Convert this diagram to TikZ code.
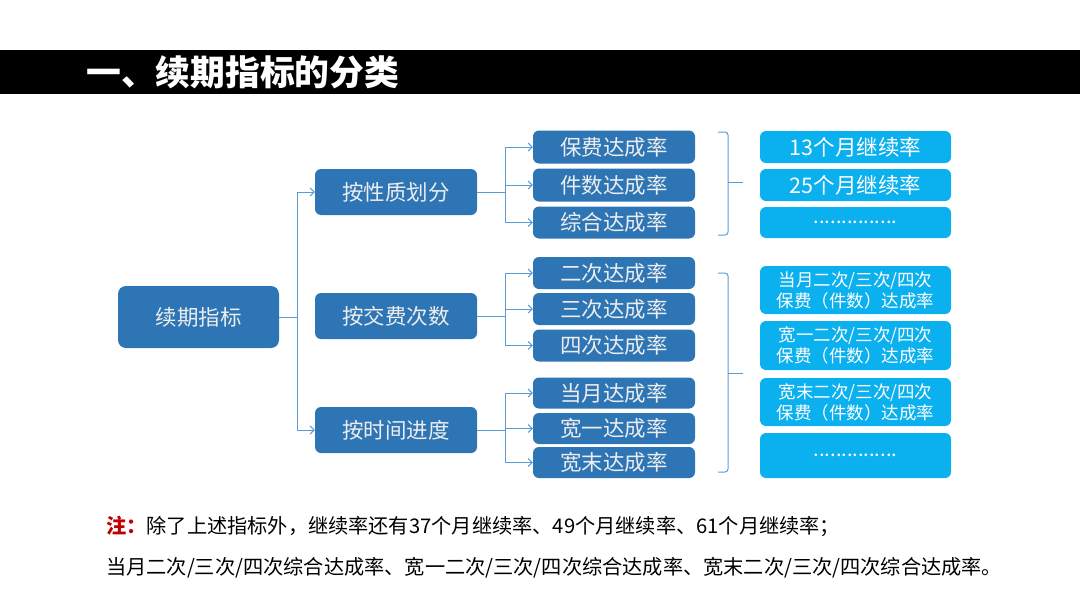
\documentclass[tikz,border=0pt]{standalone}
\usepackage{fontspec}
\setmainfont{Noto Sans CJK SC}
\usetikzlibrary{arrows.meta,calc}
\definecolor{darkbox}{HTML}{2E75B6}
\definecolor{lightbox}{HTML}{0BB0EE}
\definecolor{conn}{HTML}{5B9BD5}
\definecolor{boxtext}{HTML}{EDEDED}
\definecolor{notered}{HTML}{C00000}
\begin{document}
\begin{tikzpicture}[x=1pt,y=-1pt,
  dbox/.style={draw=none,fill=darkbox,rounded corners=6pt,text=boxtext,inner sep=0pt,font=\fontsize{21.5}{24}\selectfont},
  lbox/.style={draw=none,fill=lightbox,rounded corners=6pt,text=white,inner sep=0pt,minimum width=191pt,align=center},
  link/.style={draw=conn,line width=1pt},
  arr/.style={link,-{Straight Barb[length=4pt,width=8pt]}},
  brk/.style={draw=conn,line width=1pt,rounded corners=3pt}]
\useasboundingbox (0,0) rectangle (1080,608);
% title bar
\fill[black] (0,50) rectangle (1080,94);
\node[anchor=west,text=white,font=\bfseries\fontsize{34.8}{38}\selectfont,inner sep=0pt] (title) at (86,72) {一、续期指标的分类};
% root
\node[dbox,minimum width=161pt,minimum height=62pt,rounded corners=8pt] (root) at (198.5,317) {续期指标};
% level 2
\node[dbox,minimum width=162pt,minimum height=46pt] (l2a) at (396,192) {按性质划分};
\node[dbox,minimum width=162pt,minimum height=46pt] (l2b) at (396,316) {按交费次数};
\node[dbox,minimum width=162pt,minimum height=46pt] (l2c) at (396,430) {按时间进度};
% level 3
\node[dbox,minimum width=162pt,minimum height=33pt] (l3a) at (614,147) {保费达成率};
\node[dbox,minimum width=162pt,minimum height=33pt] (l3b) at (614,185) {件数达成率};
\node[dbox,minimum width=162pt,minimum height=32pt] (l3c) at (614,222.5) {综合达成率};
\node[dbox,minimum width=162pt,minimum height=32pt] (l3d) at (614,273) {二次达成率};
\node[dbox,minimum width=162pt,minimum height=32pt] (l3e) at (614,309) {三次达成率};
\node[dbox,minimum width=162pt,minimum height=32pt] (l3f) at (614,345.5) {四次达成率};
\node[dbox,minimum width=162pt,minimum height=31pt] (l3g) at (614,393) {当月达成率};
\node[dbox,minimum width=162pt,minimum height=31pt] (l3h) at (614,428.5) {宽一达成率};
\node[dbox,minimum width=162pt,minimum height=31pt] (l3i) at (614,462.5) {宽末达成率};
% right boxes
\node[lbox,minimum height=32pt,font=\fontsize{21.5}{24}\selectfont] (r1) at (855.5,147) {13个月继续率};
\node[lbox,minimum height=32pt,font=\fontsize{21.5}{24}\selectfont] (r2) at (855.5,185) {25个月继续率};
\node[lbox,minimum height=31pt,font=\fontsize{20}{22}\selectfont] (r3) at (855.5,222.5) {...............};
\node[lbox,minimum height=48pt,font=\fontsize{17.5}{21}\selectfont] (r4) at (855.5,290) {当月二次/三次/四次\\保费（件数）达成率};
\node[lbox,minimum height=49pt,font=\fontsize{17.5}{21}\selectfont] (r5) at (855.5,345.5) {宽一二次/三次/四次\\保费（件数）达成率};
\node[lbox,minimum height=48pt,font=\fontsize{17.5}{21}\selectfont] (r6) at (855.5,402) {宽末二次/三次/四次\\保费（件数）达成率};
\node[lbox,minimum height=45pt,font=\fontsize{20}{22}\selectfont] (r7) at (855.5,455.5) {...............};
% connectors root -> level 2
\draw[link] (root.east) -- ++(18,0) coordinate (j0);
\draw[arr] (j0) |- (l2a.west);
\draw[arr] (j0) |- (l2c.west);
% level 2 -> level 3
\draw[link] (l2a.east) -- ++(28,0) coordinate (j1);
\draw[arr] (j1) |- (l3a.west);
\draw[arr] (j1) |- (l3b.west);
\draw[arr] (j1) |- (l3c.west);
\draw[link] (l2b.east) -- ++(28,0) coordinate (j2);
\draw[arr] (j2) |- (l3d.west);
\draw[arr] (j2) |- (l3e.west);
\draw[arr] (j2) |- (l3f.west);
\draw[link] (l2c.east) -- ++(28,0) coordinate (j3);
\draw[arr] (j3) |- (l3g.west);
\draw[arr] (j3) |- (l3h.west);
\draw[arr] (j3) |- (l3i.west);
% brackets
\draw[brk] (718,132) -- (728,132) -- (728,235) -- (718,235);
\draw[link] (728,182) -- (743,182);
\draw[brk] (718,273) -- (728,273) -- (728,472) -- (718,472);
\draw[link] (728,373) -- (743,373);
% note
\node[anchor=west,inner sep=0pt,font=\fontsize{20.2}{22}\selectfont] (note1) at (106,526) {{\color{notered}\bfseries 注：}除了上述指标外，继续率还有37个月继续率、49个月继续率、61个月继续率；};
\node[anchor=west,inner sep=0pt,font=\fontsize{20.2}{22}\selectfont] (note2) at (106,568) {当月二次/三次/四次综合达成率、宽一二次/三次/四次综合达成率、宽末二次/三次/四次综合达成率。};
\end{tikzpicture}
\end{document}
